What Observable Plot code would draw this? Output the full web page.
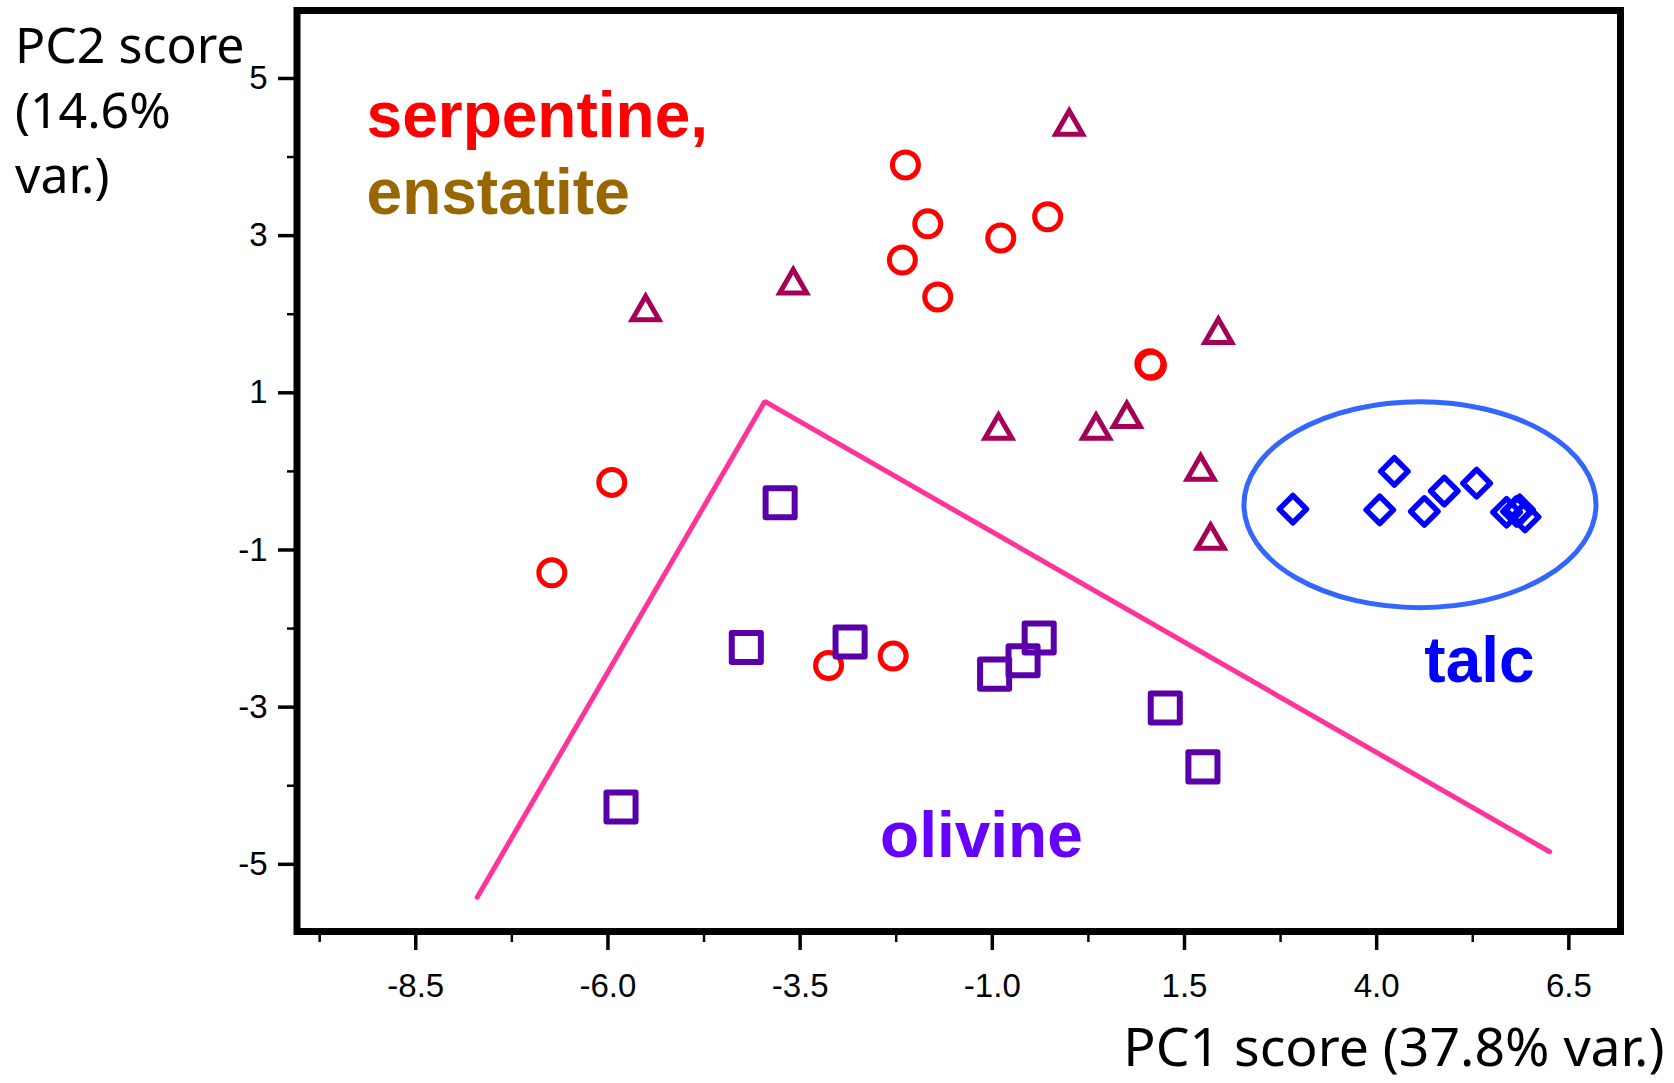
<!DOCTYPE html>
<html>
<head>
<meta charset="utf-8">
<script src="https://cdn.jsdelivr.net/npm/d3@7"></script>
<script src="https://cdn.jsdelivr.net/npm/@observablehq/plot@0.6"></script>
<style>
  html, body { margin: 0; padding: 0; background: #fff; }
  #chart svg { display: block; }
</style>
</head>
<body>
<div id="chart"></div>
<script>
// ---- data (PC1, PC2 scores) ----
const serpentineX = [-2.13, -1.84, -2.17, -1.71, -0.89, -0.28, 1.07, 1.05, -5.95, -6.73, -3.13, -2.29];
const serpentineY = [3.90, 3.15, 2.69, 2.22, 2.97, 3.24, 1.35, 1.37, -0.14, -1.29, -2.47, -2.35];

const enstatiteX = [0.00, -3.59, -5.51, 1.94, -0.92, 0.35, 0.75, 1.71, 1.84];
const enstatiteY = [4.39, 2.37, 2.03, 1.74, 0.52, 0.52, 0.67, 0.00, -0.88];

const olivineX = [-3.76, -4.20, -2.85, -0.97, -0.60, -0.39, 1.25, 1.74, -5.83];
const olivineY = [-0.40, -2.24, -2.17, -2.58, -2.41, -2.12, -3.01, -3.76, -4.27];

const talcX = [2.91, 4.23, 4.04, 4.62, 4.88, 5.30, 5.69, 5.82, 5.86, 5.93];
const talcY = [-0.48, 0.00, -0.49, -0.51, -0.25, -0.15, -0.52, -0.51, -0.49, -0.58];

// hand-drawn olivine boundary (polyline) and talc ellipse
const boundaryX = [-7.70, -3.96, 6.25];
const boundaryY = [-5.42, 0.89, -4.84];
const talcEllipse = [4.57, -0.43, 2.29, 1.31]; // cx, cy, rx, ry (data units)

// annotation labels
const labelText = ["serpentine,", "enstatite", "olivine", "talc"];
const labelX = [-9.14, -9.14, -2.46, 4.62];
const labelY = [4.25, 3.28, -4.91, -2.68];

// axes
const xMajorTicks = [-8.5, -6.0, -3.5, -1.0, 1.5, 4.0, 6.5];
const xMinorTicks = [-9.75, -7.25, -4.75, -2.25, 0.25, 2.75, 5.25];
const yMajorTicks = [-5, -3, -1, 1, 3, 5];
const yMinorTicks = [-4, -2, 0, 2, 4];
const xTitle = "PC1 score (37.8% var.)";
const yTitle = "PC2 score\n(14.6%\nvar.)";

// ---- styles ----
const labelColors = ["#FF0000", "#996600", "#6600FF", "#0000FF"];
const sansTick = "'Liberation Sans', Arial, sans-serif";
const sansTitle = "'Noto Sans', 'DejaVu Sans', sans-serif";

const toPts = (xs, ys) => xs.map((x, i) => ({x, y: ys[i]}));
const serp = toPts(serpentineX, serpentineY);
const enst = toPts(enstatiteX, enstatiteY);
const oliv = toPts(olivineX, olivineY);
const talc = toPts(talcX, talcY);
const boundary = toPts(boundaryX, boundaryY);
const labels = labelText.map((t, i) => ({t, x: labelX[i], y: labelY[i], c: labelColors[i]}));

const ellipseMark = (index, scales) => {
  const [cx, cy, rx, ry] = talcEllipse;
  const X = scales.x, Y = scales.y;
  const el = document.createElementNS("http://www.w3.org/2000/svg", "ellipse");
  el.setAttribute("cx", X(cx));
  el.setAttribute("cy", Y(cy));
  el.setAttribute("rx", Math.abs(X(cx + rx) - X(cx)));
  el.setAttribute("ry", Math.abs(Y(cy + ry) - Y(cy)));
  el.setAttribute("fill", "none");
  el.setAttribute("stroke", "#3366FF");
  el.setAttribute("stroke-width", 5);
  return el;
};

const chart = Plot.plot({
  width: 1674,
  height: 1083,
  marginLeft: 296.5,
  marginRight: 54,
  marginTop: 10,
  marginBottom: 152,
  x: {domain: [-10.045, 7.172]},
  y: {domain: [-5.855, 5.865]},
  marks: [
    Plot.line(boundary, {x: "x", y: "y", stroke: "#FF3399", strokeWidth: 5, strokeLinejoin: "miter"}),
    ellipseMark,
    Plot.dot(serp, {x: "x", y: "y", symbol: "circle", r: 13, stroke: "#FF0000", strokeWidth: 5, fill: "none"}),
    Plot.dot(enst, {x: "x", y: "y", symbol: "triangle", r: 10, stroke: "#A50055", strokeWidth: 5, fill: "none", strokeLinejoin: "miter"}),
    Plot.dot(oliv, {x: "x", y: "y", symbol: "square", r: 16.4, stroke: "#5A00AA", strokeWidth: 6, fill: "none", strokeLinejoin: "round"}),
    Plot.dot(talc, {x: "x", y: "y", symbol: "diamond2", r: 12.3, stroke: "#0000FF", strokeWidth: 5.5, fill: "none", strokeLinejoin: "round"}),
    ...labels.map(d => Plot.text([d], {
      x: "x", y: "y", text: "t", fill: d.c, textAnchor: "start", lineAnchor: "bottom",
      fontSize: 64, fontWeight: "bold", fontFamily: sansTick
    })),
    Plot.frame({stroke: "black", strokeWidth: 7}),
    Plot.axisX(xMajorTicks, {anchor: "bottom", tickSize: 19, tickPadding: 23, strokeWidth: 3.5,
      tickFormat: d => d.toFixed(1), fontSize: 33, fontFamily: sansTick, fill: "black", label: null}),
    Plot.axisX(xMinorTicks, {anchor: "bottom", tickSize: 11, strokeWidth: 2.5, tickFormat: () => "", label: null}),
    Plot.axisY(yMajorTicks, {anchor: "left", tickSize: 18.5, tickPadding: 11, strokeWidth: 3.5,
      tickFormat: d => String(d), fontSize: 33, fontFamily: sansTick, fill: "black", label: null}),
    Plot.axisY(yMinorTicks, {anchor: "left", tickSize: 9.5, strokeWidth: 2.5, tickFormat: () => "", label: null}),
    Plot.text([yTitle], {text: d => d, frameAnchor: "top-left", textAnchor: "start", lineAnchor: "top",
      dx: -282, dy: 6, fontSize: 50, lineHeight: 1.3, fontFamily: sansTitle, fill: "black"}),
    Plot.text([xTitle], {text: d => d, frameAnchor: "bottom-right", textAnchor: "end", lineAnchor: "bottom",
      dx: 44, dy: 134, fontSize: 53.5, fontFamily: sansTitle, fill: "black"})
  ]
});
document.getElementById("chart").appendChild(chart);
</script>
</body>
</html>
